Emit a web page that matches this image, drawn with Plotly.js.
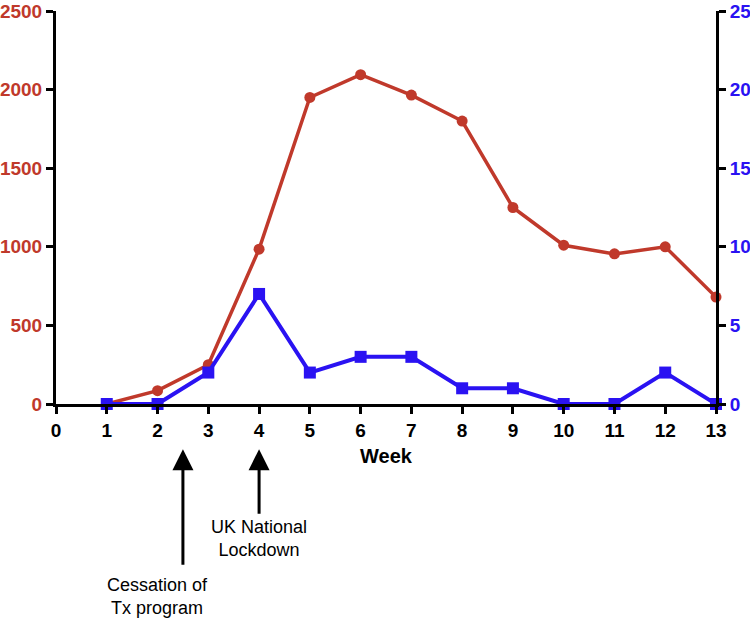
<!DOCTYPE html>
<html><head><meta charset="utf-8">
<script src="https://cdn.plot.ly/plotly-3.0.1.min.js"></script>
<style>body{margin:0;background:#fff}#c{width:750px;height:622px}</style>
</head><body><div id="c"></div>
<script>
const weeks = [1,2,3,4,5,6,7,8,9,10,11,12,13];
const redSeries = [0,85,250,985,1950,2095,1965,1800,1250,1010,955,1000,680];
const blueSeries = [0,0,2,7,2,3,3,1,1,0,0,2,0];
const xTicks = [0,1,2,3,4,5,6,7,8,9,10,11,12,13];
const leftTicks = [0,500,1000,1500,2000,2500];
const rightTicks = [0,5,10,15,20,25];
const events = [
  {x:2.5, textX:2.0, text:'Cessation of<br>Tx program', tail:117, textY:-0.49},
  {x:4, textX:4.0, text:'UK National<br>Lockdown', tail:66, textY:-0.343}
];
const RED='#c0392b', BLUE='#2a12f2';
const FAM='Liberation Sans, Arial, sans-serif';
const traces = [
  {x:weeks, y:redSeries, type:'scatter', mode:'lines+markers', cliponaxis:false,
   line:{color:RED,width:3.5}, marker:{color:RED,size:11,symbol:'circle'}},
  {x:weeks, y:blueSeries, type:'scatter', mode:'lines+markers', yaxis:'y2', cliponaxis:false,
   line:{color:BLUE,width:4}, marker:{color:BLUE,size:12,symbol:'square'}}
];
const annotations = [];
events.forEach(e=>{
  annotations.push({x:e.x, y:-0.115, xref:'x', yref:'paper', text:'', showarrow:true,
    ax:0, ay:e.tail, axref:'pixel', ayref:'pixel', arrowhead:2, arrowsize:1.4, arrowwidth:3, arrowcolor:'#000'});
  annotations.push({x:e.textX, y:e.textY, xref:'x', yref:'paper', yanchor:'middle', xanchor:'center',
    text:e.text, showarrow:false, align:'center', font:{family:FAM, size:18, color:'#000'}});
});
const axisCommon = {showgrid:false, zeroline:false, showline:true, linecolor:'#000', linewidth:3,
  ticks:'outside', ticklen:7, tickwidth:3, tickcolor:'#000', ticklabeloverflow:'allow'};
const layout = {
  width:750, height:622, margin:{l:56,r:34,t:11,b:218},
  paper_bgcolor:'#fff', plot_bgcolor:'#fff', showlegend:false,
  xaxis:Object.assign({range:[0,13], tickvals:xTicks, ticktext:xTicks.map(String),
    tickfont:{family:FAM, size:19, color:'#000', weight:'bold'},
    title:{text:'<b>Week</b>', font:{family:FAM, size:20, color:'#000'}, standoff:10}}, axisCommon),
  yaxis:Object.assign({range:[0,2500], tickvals:leftTicks,
    tickfont:{family:FAM, size:19, color:RED, weight:'bold'}}, axisCommon),
  yaxis2:Object.assign({range:[0,25], tickvals:rightTicks, overlaying:'y', side:'right',
    tickfont:{family:FAM, size:19, color:BLUE, weight:'bold'}}, axisCommon),
  annotations:annotations
};
Plotly.newPlot('c', traces, layout, {displayModeBar:false, staticPlot:true});
</script></body></html>
